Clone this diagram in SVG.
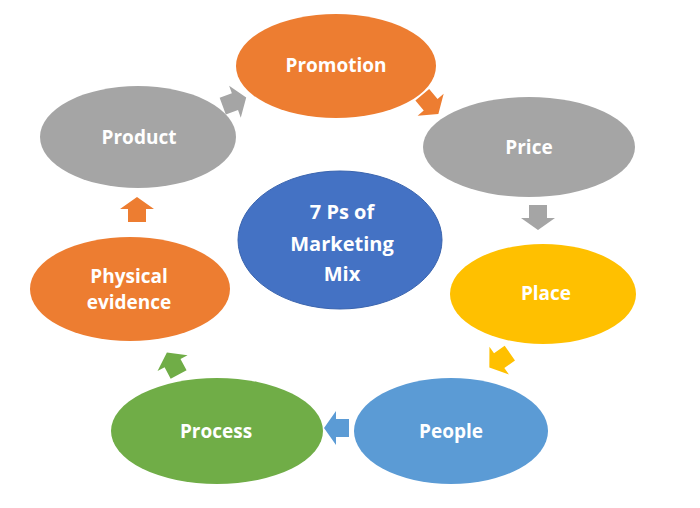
<svg xmlns="http://www.w3.org/2000/svg" width="700" height="508" viewBox="0 0 700 508">
<style>
.t{font-family:"Open Sans","Liberation Sans",sans-serif;font-weight:bold;font-size:19px;fill:#fff;text-anchor:middle}
.c{font-size:20px}
.or{fill:#ED7D31}.gr{fill:#A5A5A5}.ye{fill:#FFC000}.bl{fill:#5B9BD5}.gn{fill:#70AD47}.db{fill:#4472C4}
</style>
<defs>
<path id="arr" d="M-12,-9 H1 V-17 L13,0 L1,17 V9 H-12 Z"/>
</defs>
<rect width="700" height="508" fill="#fff"/>
<g id="connectors">
<use href="#arr" class="gr" transform="translate(234,102) rotate(-20)"/>
<use href="#arr" class="or" transform="translate(430,104) rotate(50)"/>
<use href="#arr" class="gr" transform="translate(538,217) rotate(90)"/>
<use href="#arr" class="ye" transform="translate(500,360) rotate(145)"/>
<use href="#arr" class="bl" transform="translate(337,428) rotate(180)"/>
<use href="#arr" class="gn" transform="translate(173,364) rotate(-118)"/>
<use href="#arr" class="or" transform="translate(137,210) rotate(-90)"/>
</g>
<g id="promotion"><ellipse class="or" cx="336" cy="66" rx="100" ry="52"/><text class="t" x="336" y="72">Promotion</text></g>
<g id="price"><ellipse class="gr" cx="529" cy="147" rx="106" ry="50"/><text class="t" x="529" y="154">Price</text></g>
<g id="place"><ellipse class="ye" cx="543" cy="294" rx="93" ry="50"/><text class="t" x="546" y="300">Place</text></g>
<g id="people"><ellipse class="bl" cx="451" cy="431" rx="97" ry="53"/><text class="t" x="451" y="438">People</text></g>
<g id="process"><ellipse class="gn" cx="217" cy="431" rx="106" ry="53"/><text class="t" x="216" y="438">Process</text></g>
<g id="physical"><ellipse class="or" cx="130" cy="289" rx="100" ry="52"/><text class="t" x="129" y="283">Physical</text><text class="t" x="129" y="309">evidence</text></g>
<g id="product"><ellipse class="gr" cx="138" cy="137" rx="98" ry="51"/><text class="t" x="139" y="144">Product</text></g>
<g id="center"><ellipse class="db" cx="340" cy="240" rx="102" ry="69" stroke="#3A64AE" stroke-width="1"/><text class="t c" x="342" y="219">7 Ps of</text><text class="t c" x="342" y="251">Marketing</text><text class="t c" x="342" y="281">Mix</text></g>
</svg>
